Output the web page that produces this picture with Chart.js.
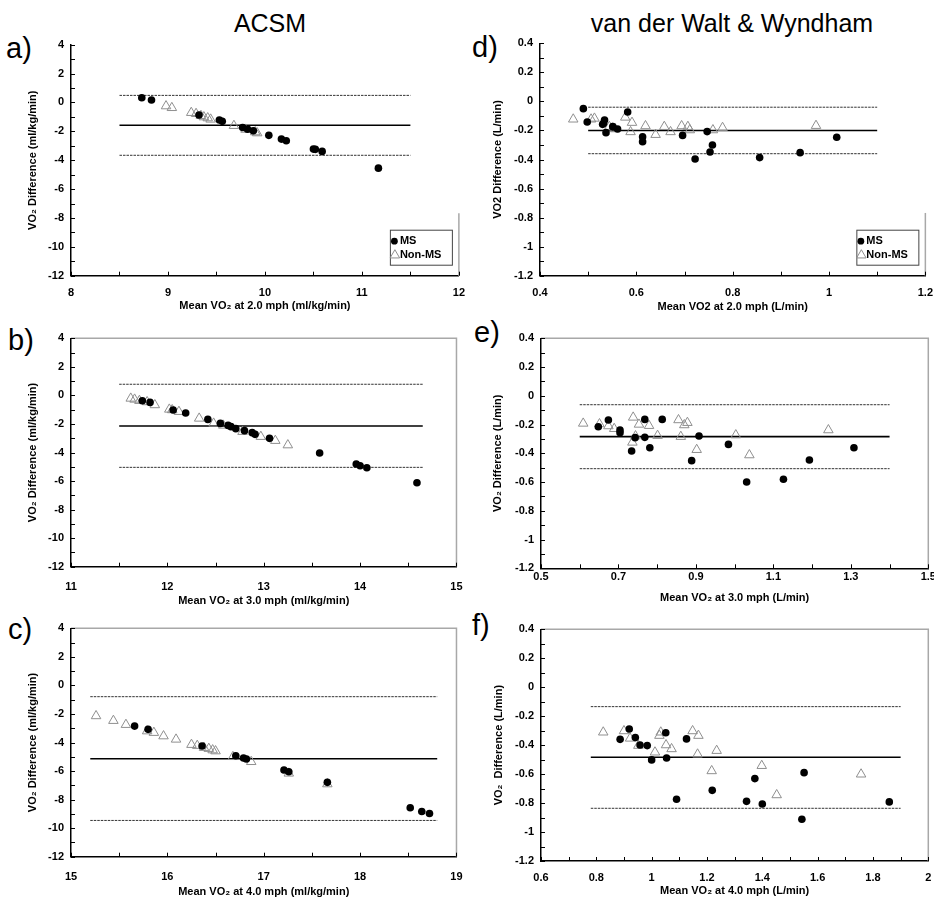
<!DOCTYPE html>
<html>
<head>
<meta charset="utf-8">
<script src="https://cdn.jsdelivr.net/npm/chart.js@4/dist/chart.umd.min.js"></script>
<style>
  html, body { margin: 0; padding: 0; background: #fff; overflow: hidden; }
  body { width: 934px; height: 901px; position: relative; font-family: 'Liberation Sans', Arial, sans-serif; }
  canvas { position: absolute; }
  .head { position: absolute; font-size: 25px; color: #000; white-space: nowrap; transform: translateX(-50%); }
  .tag { position: absolute; font-size: 29px; color: #000; line-height: 1; }
</style>
</head>
<body>
<div class="head" style="left:270px; top:9px;">ACSM</div>
<div class="head" style="left:732px; top:9px;">van der Walt &amp; Wyndham</div>
<div class="tag" style="left:6px; top:34px;">a)</div>
<div class="tag" style="left:8px; top:326px;">b)</div>
<div class="tag" style="left:8px; top:615px;">c)</div>
<div class="tag" style="left:472px; top:33px;">d)</div>
<div class="tag" style="left:474px; top:318px;">e)</div>
<div class="tag" style="left:472px; top:611px;">f)</div>

<script>
// ---- data ----
// a) ACSM, 2.0 mph
const msX_a = [8.73, 8.83, 9.32, 9.53, 9.56, 9.77, 9.82, 9.88, 10.04, 10.17, 10.22, 10.50, 10.52, 10.59, 11.17];
const msY_a = [0.33, 0.17, -0.87, -1.22, -1.31, -1.73, -1.85, -1.96, -2.28, -2.54, -2.65, -3.23, -3.25, -3.39, -4.55];
const nmX_a = [8.98, 9.04, 9.24, 9.29, 9.34, 9.37, 9.41, 9.44, 9.68, 9.80, 9.90, 9.92];
const nmY_a = [-0.25, -0.37, -0.71, -0.78, -0.92, -1.01, -1.08, -1.17, -1.61, -1.87, -2.05, -2.12];
const lim_a = [0.49, -1.58, -3.66];   // upper, mean, lower
const span_a = [8.5, 11.5];

// b) ACSM, 3.0 mph
const msX_b = [11.74, 11.82, 12.06, 12.19, 12.42, 12.55, 12.63, 12.66, 12.71, 12.80, 12.88, 12.91, 13.06, 13.58, 13.96, 14.00, 14.07, 14.59];
const msY_b = [-0.37, -0.49, -1.02, -1.23, -1.68, -1.96, -2.10, -2.19, -2.33, -2.47, -2.61, -2.73, -3.01, -4.04, -4.81, -4.93, -5.07, -6.12];
const nmX_b = [11.62, 11.66, 11.71, 11.79, 11.87, 12.02, 12.05, 12.12, 12.33, 12.48, 12.58, 12.78, 12.97, 13.12, 13.25];
const nmY_b = [-0.21, -0.28, -0.37, -0.46, -0.67, -0.98, -1.02, -1.14, -1.61, -1.96, -2.10, -2.54, -2.89, -3.17, -3.48];
const lim_b = [0.78, -2.14, -5.04];
const span_b = [11.5, 14.65];

// c) ACSM, 4.0 mph
const msX_c = [15.66, 15.80, 16.36, 16.71, 16.79, 16.82, 17.21, 17.26, 17.66, 18.52, 18.64, 18.72];
const msY_c = [-2.85, -3.08, -4.25, -4.93, -5.09, -5.16, -5.93, -6.05, -6.79, -8.57, -8.83, -8.97];
const nmX_c = [15.26, 15.44, 15.57, 15.79, 15.86, 15.96, 16.09, 16.25, 16.31, 16.38, 16.43, 16.47, 16.50, 16.68, 16.87, 17.26, 17.66];
const nmY_c = [-2.14, -2.47, -2.75, -3.20, -3.31, -3.55, -3.78, -4.15, -4.22, -4.36, -4.43, -4.53, -4.60, -5.00, -5.35, -6.16, -6.91];
const lim_c = [-0.79, -5.14, -9.46];
const span_c = [15.2, 18.8];

// d) van der Walt & Wyndham, 2.0 mph
const msX_d = [0.490, 0.498, 0.530, 0.532, 0.534, 0.537, 0.551, 0.561, 0.582, 0.613, 0.613, 0.696, 0.722, 0.747, 0.753, 0.758, 0.856, 0.940, 1.016];
const msY_d = [-0.050, -0.142, -0.158, -0.151, -0.128, -0.215, -0.174, -0.190, -0.073, -0.243, -0.277, -0.234, -0.397, -0.208, -0.348, -0.300, -0.387, -0.353, -0.247];
const nmX_d = [0.469, 0.506, 0.513, 0.544, 0.551, 0.556, 0.577, 0.591, 0.588, 0.619, 0.640, 0.658, 0.671, 0.694, 0.707, 0.711, 0.759, 0.779, 0.973];
const nmY_d = [-0.123, -0.123, -0.117, -0.174, -0.185, -0.190, -0.110, -0.146, -0.210, -0.169, -0.229, -0.174, -0.210, -0.169, -0.174, -0.197, -0.197, -0.181, -0.167];
const lim_d = [-0.04, -0.20, -0.36];
const span_d = [0.5, 1.1];

// e) van der Walt & Wyndham, 3.0 mph
const msX_e = [0.648, 0.674, 0.704, 0.704, 0.734, 0.743, 0.768, 0.768, 0.781, 0.813, 0.889, 0.908, 0.984, 1.031, 1.126, 1.193, 1.308];
const msY_e = [-0.215, -0.168, -0.238, -0.257, -0.384, -0.291, -0.164, -0.289, -0.361, -0.164, -0.451, -0.280, -0.338, -0.600, -0.581, -0.447, -0.361];
const nmX_e = [0.609, 0.651, 0.674, 0.689, 0.738, 0.736, 0.744, 0.753, 0.779, 0.801, 0.855, 0.861, 0.870, 0.878, 0.902, 1.003, 1.038, 1.242];
const nmY_e = [-0.192, -0.196, -0.210, -0.229, -0.150, -0.324, -0.280, -0.199, -0.208, -0.277, -0.168, -0.284, -0.203, -0.187, -0.375, -0.273, -0.412, -0.238];
const lim_e = [-0.062, -0.284, -0.507];
const span_e = [0.6, 1.4];

// f) van der Walt & Wyndham, 4.0 mph
const msX_f = [0.886, 0.919, 0.941, 0.958, 0.984, 1.000, 1.051, 1.054, 1.090, 1.126, 1.219, 1.343, 1.373, 1.400, 1.543, 1.551, 1.859];
const msY_f = [-0.360, -0.288, -0.348, -0.399, -0.403, -0.502, -0.314, -0.489, -0.774, -0.357, -0.712, -0.788, -0.631, -0.806, -0.912, -0.590, -0.792];
const nmX_f = [0.825, 0.900, 0.922, 0.952, 1.012, 1.028, 1.033, 1.052, 1.072, 1.148, 1.169, 1.166, 1.235, 1.217, 1.398, 1.452, 1.757];
const nmY_f = [-0.311, -0.302, -0.353, -0.403, -0.449, -0.334, -0.311, -0.399, -0.426, -0.302, -0.334, -0.463, -0.438, -0.578, -0.542, -0.744, -0.601];
const lim_f = [-0.134, -0.484, -0.836];
const span_f = [0.78, 1.9];

// tick labels
const yLabelsAcsm = [4, 2, 0, -2, -4, -6, -8, -10, -12];
const yLabelsVdw = [0.4, 0.2, 0, -0.2, -0.4, -0.6, -0.8, -1, -1.2];
const xLabels_a = [8, 9, 10, 11, 12];
const xLabels_b = [11, 12, 13, 14, 15];
const xLabels_c = [15, 16, 17, 18, 19];
const xLabels_d = [0.4, 0.6, 0.8, 1, 1.2];
const xLabels_e = [0.5, 0.7, 0.9, 1.1, 1.3, 1.5];
const xLabels_f = [0.6, 0.8, 1, 1.2, 1.4, 1.6, 1.8, 2];

const FONT = "'Liberation Sans', Arial, sans-serif";

function pts(xs, ys) { return xs.map((x, i) => ({ x: x, y: ys[i] })); }
function hline(span, v) { return [{ x: span[0], y: v }, { x: span[1], y: v }]; }
function labeler(list) {
  return v => list.some(l => Math.abs(l - v) < 1e-6) ? String(+v.toFixed(2)) : '';
}

// frame (grey top/right), inside tick marks, and the small legend box
const framePlugin = {
  id: 'frame',
  beforeDatasetsDraw(chart, args, opts) {
    const ctx = chart.ctx, a = chart.chartArea;
    const x = chart.scales.x, y = chart.scales.y;
    ctx.save();
    ctx.strokeStyle = '#a8a8a8';
    ctx.lineWidth = 1.5;
    ctx.beginPath();
    if (opts.full) {
      ctx.moveTo(a.left, a.top);
      ctx.lineTo(a.right, a.top);
      ctx.lineTo(a.right, a.bottom);
    } else {
      ctx.moveTo(a.right, a.top + (a.bottom - a.top) * opts.from);
      ctx.lineTo(a.right, a.bottom);
    }
    ctx.stroke();
    ctx.strokeStyle = '#000';
    ctx.lineWidth = 1;
    ctx.beginPath();
    x.ticks.forEach(t => {
      const px = Math.round(x.getPixelForValue(t.value)) + 0.5;
      ctx.moveTo(px, a.bottom);
      ctx.lineTo(px, a.bottom - 4);
    });
    y.ticks.forEach(t => {
      const py = Math.round(y.getPixelForValue(t.value)) + 0.5;
      ctx.moveTo(a.left, py);
      ctx.lineTo(a.left + 4, py);
    });
    ctx.stroke();
    ctx.restore();
  },
  afterDatasetsDraw(chart, args, opts) {
    if (!opts.legend) return;
    const ctx = chart.ctx, a = chart.chartArea;
    const w = 62, h = 35;
    const bx = a.right - 7 - w, by = a.bottom - 11 - h;
    const ms = chart.data.datasets[0], nm = chart.data.datasets[1];
    ctx.save();
    ctx.fillStyle = '#fff';
    ctx.fillRect(bx, by, w, h);
    ctx.strokeStyle = '#444';
    ctx.lineWidth = 1;
    ctx.strokeRect(bx + 0.5, by + 0.5, w, h);
    ctx.fillStyle = ms.backgroundColor;
    ctx.beginPath();
    ctx.arc(bx + 4.5, by + 11.5, 3.4, 0, Math.PI * 2);
    ctx.fill();
    ctx.strokeStyle = nm.borderColor;
    ctx.fillStyle = 'rgba(0,0,0,0)';
    Chart.helpers.drawPoint(ctx, { pointStyle: 'triangle', radius: 5.5, borderWidth: 1, rotation: 0 }, bx + 5, by + 25.5);
    ctx.fillStyle = '#000';
    ctx.font = 'bold 11px ' + FONT;
    ctx.textBaseline = 'middle';
    ctx.fillText('MS', bx + 10, by + 11.5);
    ctx.fillText('Non-MS', bx + 10, by + 25);
    ctx.restore();
  }
};

function makePanel(p) {
  const cl = Math.floor(p.L) - 71;
  const ct = Math.floor(p.T) - 15;
  const cw = Math.ceil(p.R) + 15 - cl;
  const ch = Math.ceil(p.B) + 45 - ct;
  const canvas = document.createElement('canvas');
  canvas.width = cw;
  canvas.height = ch;
  canvas.style.left = cl + 'px';
  canvas.style.top = ct + 'px';
  canvas.style.width = cw + 'px';
  canvas.style.height = ch + 'px';
  document.body.appendChild(canvas);

  const yWidth = p.L - cl;
  const xHeight = ct + ch - p.B;
  const tickFont = { family: FONT, size: 11, weight: 'bold' };
  const titleFont = { family: FONT, size: 11, weight: 'bold' };

  new Chart(canvas.getContext('2d'), {
    type: 'scatter',
    data: {
      datasets: [
        { label: 'MS', data: pts(p.msX, p.msY), pointStyle: 'circle', pointRadius: 3.8,
          backgroundColor: '#000', borderColor: '#000', borderWidth: 0 },
        { label: 'Non-MS', data: pts(p.nmX, p.nmY), pointStyle: 'triangle', pointRadius: 5.5,
          backgroundColor: 'rgba(0,0,0,0)', borderColor: '#8f8f8f', borderWidth: 1 },
        { label: 'mean', data: hline(p.span, p.lim[1]), showLine: true, pointRadius: 0,
          borderColor: '#000', borderWidth: 1.6 },
        { label: 'upper', data: hline(p.span, p.lim[0]), showLine: true, pointRadius: 0,
          borderColor: '#333', borderWidth: 1, borderDash: [2.5, 1] },
        { label: 'lower', data: hline(p.span, p.lim[2]), showLine: true, pointRadius: 0,
          borderColor: '#333', borderWidth: 1, borderDash: [2.5, 1] }
      ]
    },
    options: {
      responsive: false,
      animation: false,
      events: [],
      layout: { padding: { left: 0, top: p.T - ct, right: cl + cw - p.R, bottom: 0 } },
      plugins: {
        legend: { display: false },
        tooltip: { enabled: false },
        frame: { full: p.full, from: p.from || 0, legend: p.legend }
      },
      scales: {
        x: {
          type: 'linear', min: p.xMin, max: p.xMax,
          afterFit: s => { s.height = xHeight; },
          grid: { display: false, drawTicks: false },
          border: { display: true, color: '#000', width: 1.5 },
          ticks: { stepSize: p.xStep, autoSkip: false, maxRotation: 0, color: '#000', font: tickFont,
                   padding: p.tickGap - 6.6, callback: labeler(p.xLabels) },
          title: { display: true, text: p.xTitle, color: '#000', font: titleFont,
                   padding: { top: 0, bottom: xHeight - p.titleGap - 6.6 } }
        },
        y: {
          type: 'linear', min: p.yMin, max: p.yMax,
          afterFit: s => { s.width = yWidth; },
          grid: { display: false, drawTicks: false },
          border: { display: true, color: '#000', width: 1.5 },
          ticks: { stepSize: p.yStep, autoSkip: false, color: '#000', font: tickFont,
                   padding: 7, callback: labeler(p.yLabels) },
          title: { display: true, text: p.yTitle, color: '#000', font: titleFont,
                   padding: { top: p.yTitleX - cl - 6.6, bottom: 0 } }
        }
      }
    },
    plugins: [framePlugin]
  });
}

const acsmY = 'VO\u2082 Difference (ml/kg/min)';

makePanel({ L: 71, T: 44.7, R: 461, B: 275.7, msX: msX_a, msY: msY_a, nmX: nmX_a, nmY: nmY_a,
  lim: lim_a, span: span_a, xMin: 8, xMax: 12, xStep: 0.5, yMin: -12, yMax: 4, yStep: 1,
  xLabels: xLabels_a, yLabels: yLabelsAcsm, tickGap: 17.6, titleGap: 30.3, yTitleX: 33,
  xTitle: 'Mean VO\u2082 at 2.0 mph (ml/kg/min)', yTitle: acsmY, full: false, from: 0.73, legend: true });

makePanel({ L: 71, T: 338.3, R: 461, B: 566.7, msX: msX_b, msY: msY_b, nmX: nmX_b, nmY: nmY_b,
  lim: lim_b, span: span_b, xMin: 11, xMax: 15, xStep: 0.5, yMin: -12, yMax: 4, yStep: 1,
  xLabels: xLabels_b, yLabels: yLabelsAcsm, tickGap: 20, titleGap: 34, yTitleX: 33,
  xTitle: 'Mean VO\u2082 at 3.0 mph (ml/kg/min)', yTitle: acsmY, full: true, legend: false });

makePanel({ L: 71, T: 628.3, R: 461, B: 856.7, msX: msX_c, msY: msY_c, nmX: nmX_c, nmY: nmY_c,
  lim: lim_c, span: span_c, xMin: 15, xMax: 19, xStep: 0.5, yMin: -12, yMax: 4, yStep: 1,
  xLabels: xLabels_c, yLabels: yLabelsAcsm, tickGap: 20, titleGap: 35.6, yTitleX: 33,
  xTitle: 'Mean VO\u2082 at 4.0 mph (ml/kg/min)', yTitle: acsmY, full: true, legend: false });

makePanel({ L: 540, T: 43.3, R: 929, B: 275.7, msX: msX_d, msY: msY_d, nmX: nmX_d, nmY: nmY_d,
  lim: lim_d, span: span_d, xMin: 0.4, xMax: 1.2, xStep: 0.1, yMin: -1.2, yMax: 0.4, yStep: 0.1,
  xLabels: xLabels_d, yLabels: yLabelsVdw, tickGap: 17.6, titleGap: 31, yTitleX: 498,
  xTitle: 'Mean VO2 at 2.0 mph (L/min)', yTitle: 'VO2 Difference (L/min)', full: false, from: 0.73, legend: true });

makePanel({ L: 541, T: 338.3, R: 928.3, B: 568.3, msX: msX_e, msY: msY_e, nmX: nmX_e, nmY: nmY_e,
  lim: lim_e, span: span_e, xMin: 0.5, xMax: 1.5, xStep: 0.1, yMin: -1.2, yMax: 0.4, yStep: 0.1,
  xLabels: xLabels_e, yLabels: yLabelsVdw, tickGap: 8.4, titleGap: 30, yTitleX: 498,
  xTitle: 'Mean VO\u2082 at 3.0 mph (L/min)', yTitle: 'VO\u2082 Difference (L/min)', full: true, legend: false });

makePanel({ L: 541, T: 629.3, R: 928.3, B: 861, msX: msX_f, msY: msY_f, nmX: nmX_f, nmY: nmY_f,
  lim: lim_f, span: span_f, xMin: 0.6, xMax: 2, xStep: 0.1, yMin: -1.2, yMax: 0.4, yStep: 0.1,
  xLabels: xLabels_f, yLabels: yLabelsVdw, tickGap: 16.7, titleGap: 29.7, yTitleX: 499,
  xTitle: 'Mean VO\u2082 at 4.0 mph (L/min)', yTitle: 'VO\u2082  Difference (L/min)', full: true, legend: false });
</script>
</body>
</html>
